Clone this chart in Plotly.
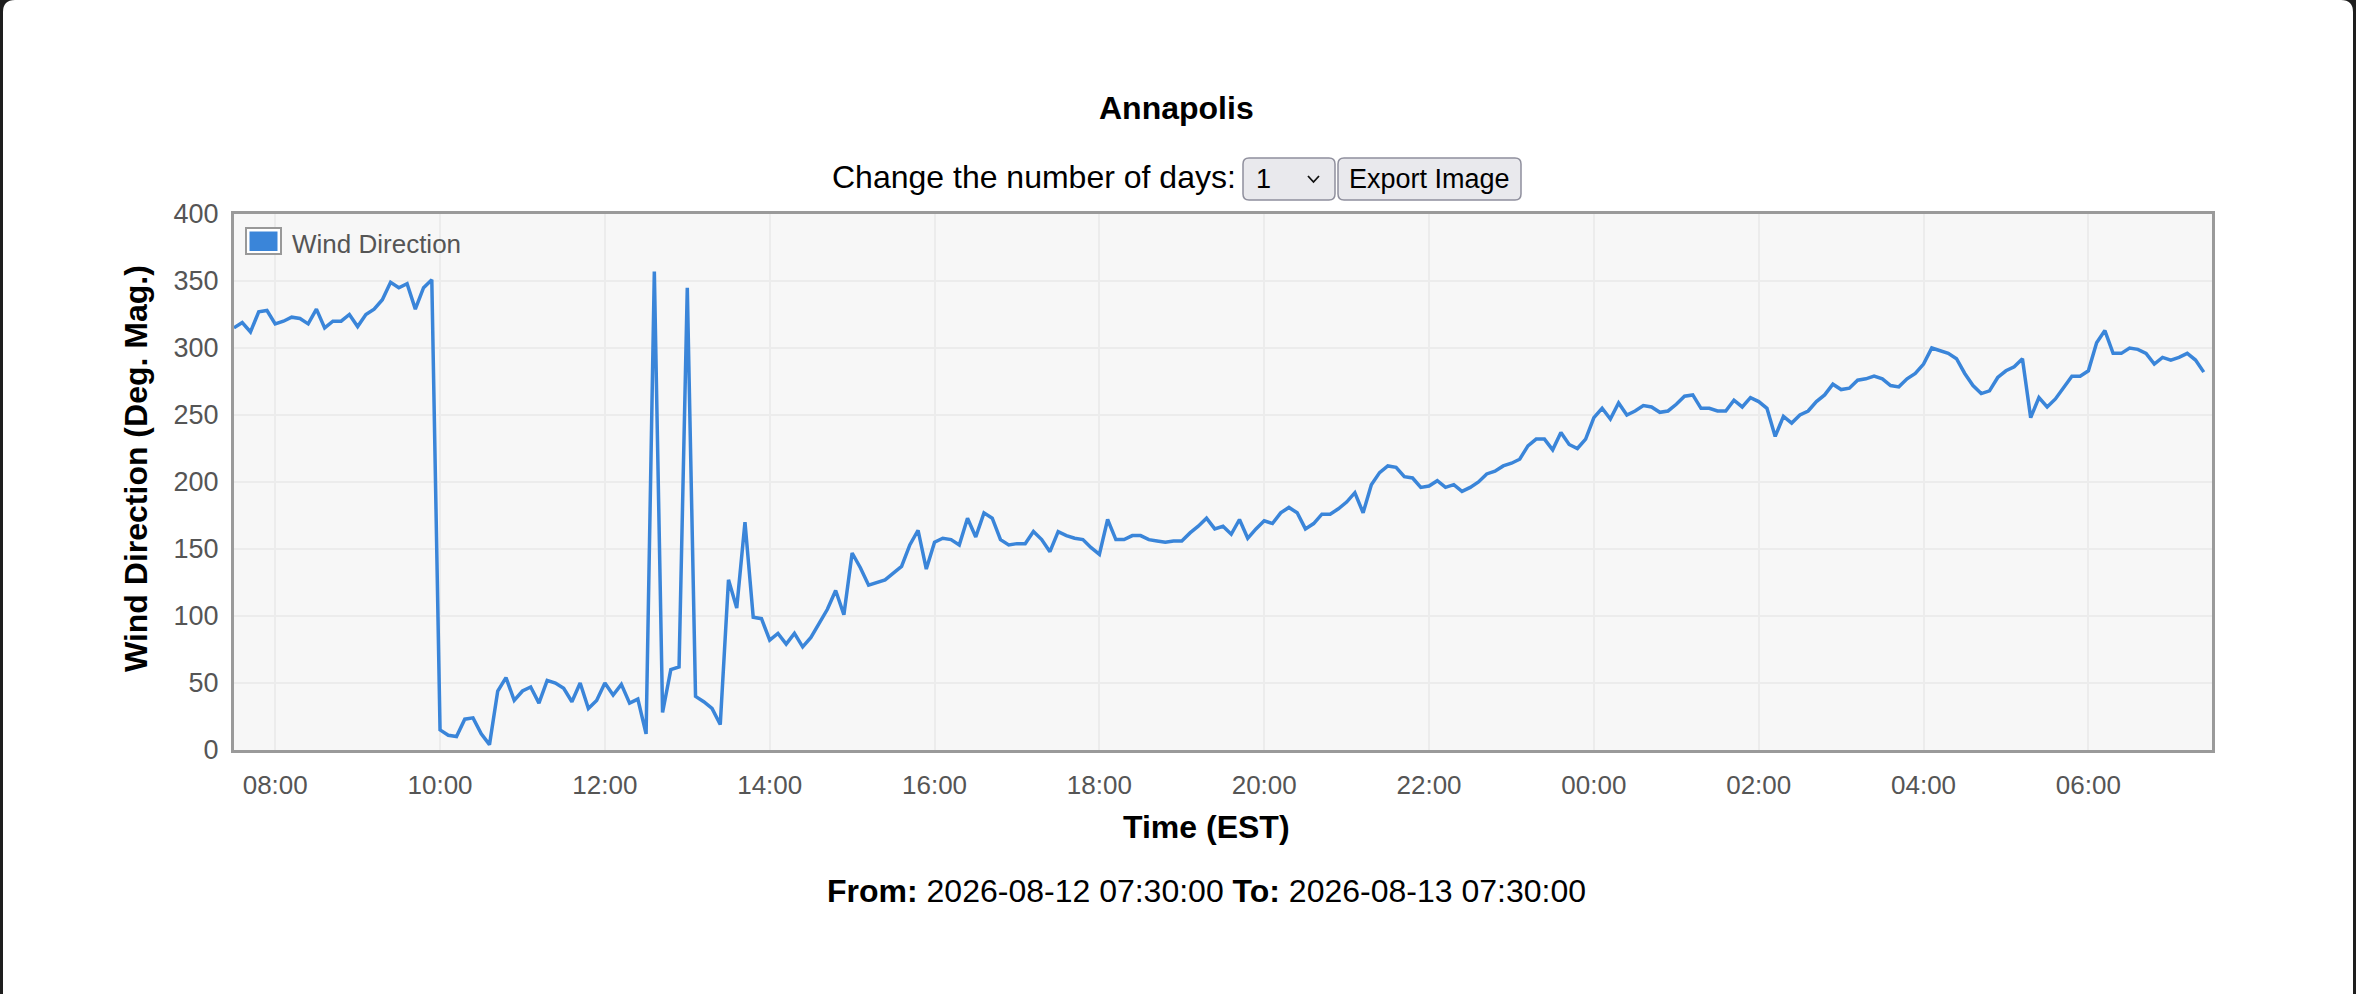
import pandas as pd
import plotly.graph_objects as go

# ---------------- data ----------------
title_text = "Annapolis"
series_name = "Wind Direction"
start_time = "2026-08-12 07:30:00"
end_time = "2026-08-13 07:30:00"
step = "6min"

wind_direction = [
    315, 319, 312, 327, 328, 318, 320, 323, 322, 318, 329, 315, 320, 320, 325, 316, 325, 329, 336, 349,
    345, 348, 329, 345, 351, 15, 11, 10, 23, 24, 12, 4, 44, 54, 37, 44, 47, 35, 52, 50,
    46, 36, 50, 31, 37, 50, 41, 49, 35, 38, 12, 357, 28, 60, 62, 345, 40, 36, 31, 19,
    127, 106, 170, 99, 98, 82, 87, 79, 87, 77, 84, 94, 105, 119, 101, 147, 136, 123, 125, 127,
    132, 137, 153, 164, 135, 155, 158, 157, 153, 173, 159, 177, 173, 157, 153, 154, 154, 163, 157, 148,
    163, 160, 158, 157, 151, 146, 172, 157, 157, 160, 160, 157, 156, 155, 156, 156, 162, 167, 173, 165,
    167, 161, 172, 158, 165, 171, 169, 177, 181, 177, 165, 169, 176, 176, 180, 185, 192, 177, 198, 207,
    212, 211, 204, 203, 196, 197, 201, 196, 198, 193, 196, 200, 206, 208, 212, 214, 217, 227, 232, 232,
    224, 237, 228, 225, 232, 248, 255, 247, 259, 250, 253, 257, 256, 252, 253, 258, 264, 265, 255, 255,
    253, 253, 261, 256, 263, 260, 255, 234, 249, 244, 250, 253, 260, 265, 273, 269, 270, 276, 277, 279,
    277, 272, 271, 277, 281, 288, 300, 298, 296, 292, 281, 272, 266, 268, 278, 283, 286, 292, 248, 263,
    256, 262, 270, 279, 279, 283, 304, 313, 296, 296, 300, 299, 296, 288, 293, 291, 293, 296, 291, 282,
]
y_ticks = [0, 50, 100, 150, 200, 250, 300, 350, 400]
x_title = "Time (EST)"
y_title = "Wind Direction (Deg. Mag.)"
days_label = "Change the number of days:"
days_value = "1"
button_label = "Export Image"

times = pd.date_range(start=start_time, periods=len(wind_direction), freq=step)

# ---------------- layout geometry (pixels) ----------------
W, H = 2356, 994
L, R, T, B = 234, 2212, 214, 750
FONT = "Liberation Sans, Arial, Helvetica, sans-serif"
LINE_COLOR = "#3a85d9"


def X(px):
    return (px - L) / (R - L)


def Y(py):
    return (B - py) / (B - T)


def rrect(x0, y0, x1, y1, r):
    return (
        f"M {X(x0 + r)},{Y(y0)} L {X(x1 - r)},{Y(y0)} Q {X(x1)},{Y(y0)} {X(x1)},{Y(y0 + r)} "
        f"L {X(x1)},{Y(y1 - r)} Q {X(x1)},{Y(y1)} {X(x1 - r)},{Y(y1)} "
        f"L {X(x0 + r)},{Y(y1)} Q {X(x0)},{Y(y1)} {X(x0)},{Y(y1 - r)} "
        f"L {X(x0)},{Y(y0 + r)} Q {X(x0)},{Y(y0)} {X(x0 + r)},{Y(y0)} Z"
    )


fig = go.Figure()
fig.add_trace(
    go.Scatter(
        x=times,
        y=wind_direction,
        mode="lines",
        name=series_name,
        line=dict(color=LINE_COLOR, width=3.5),
        showlegend=False,
    )
)

shapes = []
# window edges (dark strips with rounded top corners)
shapes.append(dict(type="path", xref="paper", yref="paper",
                   path=f"M {X(0)},{Y(0)} L {X(15)},{Y(0)} Q {X(3)},{Y(0)} {X(3)},{Y(12)} L {X(3)},{Y(994)} L {X(0)},{Y(994)} Z",
                   fillcolor="#1e1e1e", line=dict(width=0), layer="above"))
shapes.append(dict(type="path", xref="paper", yref="paper",
                   path=f"M {X(2356)},{Y(0)} L {X(2341)},{Y(0)} Q {X(2353)},{Y(0)} {X(2353)},{Y(12)} L {X(2353)},{Y(994)} L {X(2356)},{Y(994)} Z",
                   fillcolor="#1e1e1e", line=dict(width=0), layer="above"))
# select box and button
shapes.append(dict(type="path", xref="paper", yref="paper", path=rrect(1243, 158, 1335, 200, 6),
                   fillcolor="#e9e9ed", line=dict(color="#8f8f9d", width=1.5), layer="above"))
shapes.append(dict(type="path", xref="paper", yref="paper", path=rrect(1338, 158, 1521, 200, 6),
                   fillcolor="#e9e9ed", line=dict(color="#8f8f9d", width=1.5), layer="above"))
# chevron of the select box
shapes.append(dict(type="path", xref="paper", yref="paper",
                   path=f"M {X(1308)},{Y(176)} L {X(1313.5)},{Y(182)} L {X(1319)},{Y(176)}",
                   line=dict(color="#111111", width=1.8), layer="above"))
# legend swatch
shapes.append(dict(type="rect", xref="paper", yref="paper", x0=X(246), x1=X(281), y0=Y(254), y1=Y(228),
                   fillcolor="white", line=dict(color="#999999", width=2), layer="above"))
shapes.append(dict(type="rect", xref="paper", yref="paper", x0=X(249.5), x1=X(277.5), y0=Y(251), y1=Y(231.5),
                   fillcolor=LINE_COLOR, line=dict(width=0), layer="above"))

annotations = [
    dict(text=f"<b>{title_text}</b>", x=X(1176), y=Y(108), font=dict(size=32, color="#000")),
    dict(text=days_label, x=X(830), y=Y(177), xanchor="left", font=dict(size=32, color="#000")),
    dict(text=days_value, x=X(1254), y=Y(179), xanchor="left", font=dict(size=27, color="#000")),
    dict(text=button_label, x=X(1429.5), y=Y(179), font=dict(size=27, color="#000")),
    dict(text=series_name, x=X(290), y=Y(244), xanchor="left", font=dict(size=26, color="#555")),
    dict(text=f"<b>{y_title}</b>", x=X(136), y=Y(469), textangle=-90, font=dict(size=32, color="#000")),
    dict(text=f"<b>{x_title}</b>", x=X(1206), y=Y(827), font=dict(size=32, color="#000")),
    dict(text=f"<b>From:</b> {start_time} <b>To:</b> {end_time}", x=X(1206), y=Y(891),
         font=dict(size=32, color="#000")),
]
for a in annotations:
    a.setdefault("xanchor", "center")
    a.update(xref="paper", yref="paper", yanchor="middle", showarrow=False)
    a["font"]["family"] = FONT

fig.update_layout(
    width=W,
    height=H,
    autosize=False,
    margin=dict(l=L, r=W - R, t=T, b=H - B, pad=0),
    paper_bgcolor="white",
    plot_bgcolor="#f7f7f7",
    font=dict(family=FONT, size=26, color="#555"),
    shapes=shapes,
    annotations=annotations,
    showlegend=False,
)
fig.update_xaxes(
    type="date",
    range=[start_time, end_time],
    tick0="2026-08-12 00:00:00",
    dtick=2 * 3600 * 1000,
    tickformat="%H:%M",
    showgrid=True,
    gridcolor="#ececec",
    gridwidth=2,
    showline=True,
    mirror=True,
    linecolor="#9a9a9a",
    linewidth=3,
    zeroline=False,
    ticks="",
    ticklabelstandoff=10,
    tickfont=dict(size=26, color="#555", family=FONT),
)
fig.update_yaxes(
    range=[0, 400],
    tickvals=y_ticks,
    showgrid=True,
    gridcolor="#ececec",
    gridwidth=2,
    showline=True,
    mirror=True,
    linecolor="#9a9a9a",
    linewidth=3,
    zeroline=False,
    ticks="",
    ticklabelstandoff=7,
    tickfont=dict(size=27, color="#555", family=FONT),
)

fig.write_html("out.html", config={"displayModeBar": False},
               post_script="document.body.style.margin='0';")
